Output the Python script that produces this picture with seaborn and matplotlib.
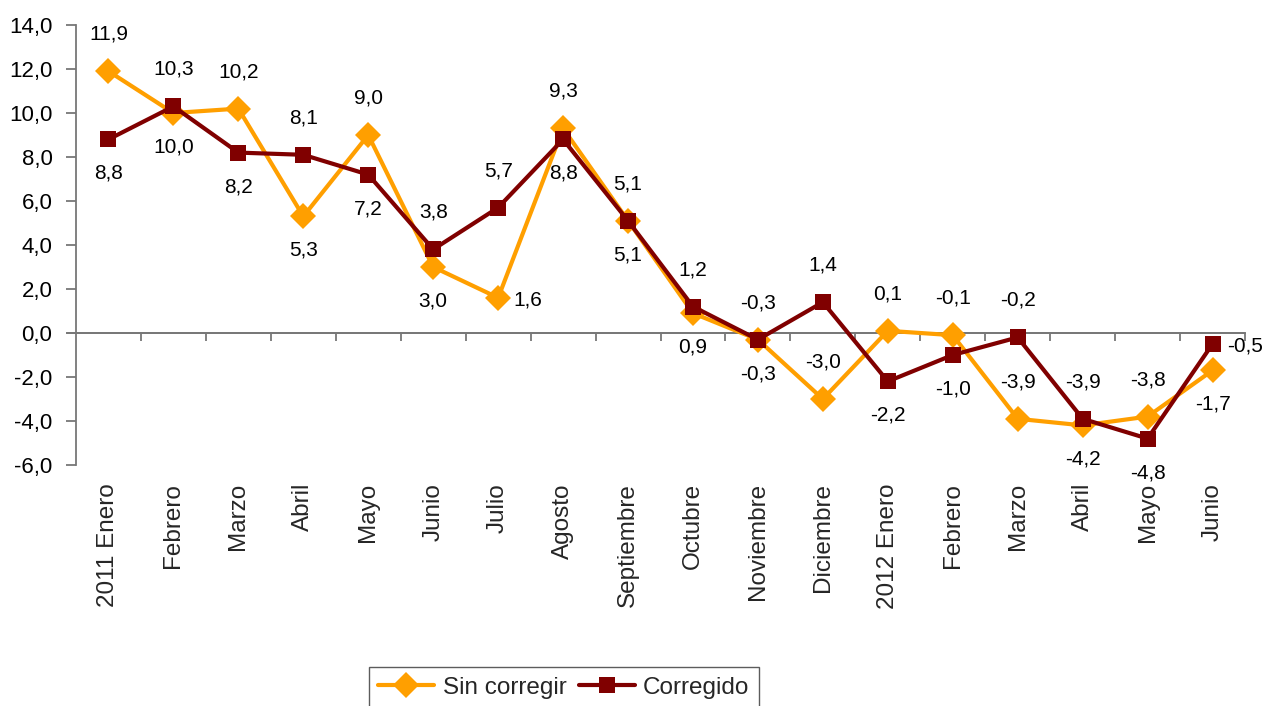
import matplotlib
matplotlib.use("Agg")
import matplotlib.pyplot as plt
import seaborn as sns
import pandas as pd
from matplotlib.ticker import FuncFormatter, FixedLocator

categories = ["2011 Enero", "Febrero", "Marzo", "Abril", "Mayo", "Junio", "Julio",
              "Agosto", "Septiembre", "Octubre", "Noviembre", "Diciembre",
              "2012 Enero", "Febrero", "Marzo", "Abril", "Mayo", "Junio"]
sin_corregir = [11.9, 10.0, 10.2, 5.3, 9.0, 3.0, 1.6, 9.3, 5.1, 0.9, -0.3, -3.0,
                0.1, -0.1, -3.9, -4.2, -3.8, -1.7]
corregido = [8.8, 10.3, 8.2, 8.1, 7.2, 3.8, 5.7, 8.8, 5.1, 1.2, -0.3, 1.4,
             -2.2, -1.0, -0.2, -3.9, -4.8, -0.5]
y_ticks = [-6, -4, -2, 0, 2, 4, 6, 8, 10, 12, 14]

# label placement: a = above, b = below, r = right
place_sin = ["a", "b", "a", "b", "a", "b", "r", "a", "b", "b", "b", "a",
             "a", "a", "a", "b", "a", "b"]
place_cor = ["b", "a", "b", "a", "b", "a", "a", "b", "a", "a", "a", "a",
             "b", "b", "a", "a", "b", "r"]

sns.set_theme(style="white")
plt.rcParams["font.family"] = ["Liberation Sans", "DejaVu Sans"]

ORANGE = "#FF9F00"
DARKRED = "#800000"
AXC = "#777777"

df = pd.DataFrame({"idx": list(range(len(categories))) * 2,
                   "valor": sin_corregir + corregido,
                   "serie": ["Sin corregir"] * len(categories) + ["Corregido"] * len(categories)})

fig = plt.figure(figsize=(12.65, 7.06), dpi=100)
ax = fig.add_axes([76 / 1265, 1 - 465 / 706, (1245 - 76) / 1265, (465 - 25) / 706])

sns.lineplot(data=df[df.serie == "Sin corregir"], x="idx", y="valor", ax=ax,
             color=ORANGE, lw=3, marker="D", markersize=13.5, markeredgewidth=0,
             label="Sin corregir")
sns.lineplot(data=df[df.serie == "Corregido"], x="idx", y="valor", ax=ax,
             color=DARKRED, lw=3, marker="s", markersize=12, markeredgewidth=0,
             label="Corregido")

ax.set_xlim(-0.5, len(categories) - 0.5)
ax.set_ylim(-6, 14)
ax.set_xlabel("")
ax.set_ylabel("")

for sp in ["top", "right", "bottom"]:
    ax.spines[sp].set_visible(False)
ax.spines["left"].set_color(AXC)
ax.spines["left"].set_linewidth(1.3)

ax.yaxis.set_major_locator(FixedLocator(y_ticks))
ax.yaxis.set_major_formatter(FuncFormatter(lambda v, p: f"{v:.1f}".replace(".", ",")))
ax.tick_params(axis="y", which="major", left=True, length=7, width=1.3, color=AXC,
               labelsize=16, pad=10, labelcolor="black")

ax.set_xticks(range(len(categories)))
ax.set_xticklabels(categories, rotation=90, fontsize=17.5, va="top")
ax.tick_params(axis="x", which="major", bottom=True, length=0, pad=13)

# zero axis line with category-boundary ticks
sec = ax.secondary_xaxis(6 / 20)
sec.spines["bottom"].set_color(AXC)
sec.spines["bottom"].set_linewidth(1.3)
sec.set_xticks([i + 0.5 for i in range(len(categories))])
sec.set_xticklabels([])
sec.tick_params(axis="x", length=6, width=1.3, color=AXC, direction="out")
ax.axhline(0, color=AXC, lw=1.3, xmin=-0.008, clip_on=False, zorder=1)

def annotate(vals, places):
    for i, (v, p) in enumerate(zip(vals, places)):
        txt = f"{v:.1f}".replace(".", ",")
        if p == "a":
            off, ha, va = (0, 37), "center", "center"
        elif p == "b":
            off, ha, va = (0, -34), "center", "center"
        else:
            off, ha, va = (15, -2), "left", "center"
        ax.annotate(txt, (i, v), xytext=off, textcoords="offset pixels",
                    ha=ha, va=va, fontsize=15, color="black", annotation_clip=False)

annotate(sin_corregir, place_sin)
annotate(corregido, place_cor)

leg = ax.legend(loc="upper center", bbox_to_anchor=(564 / 1265, 1 - 667 / 706),
                bbox_transform=fig.transFigure, ncol=2, frameon=True, fontsize=17.5,
                handlelength=2.3, handletextpad=0.35, columnspacing=0.5,
                borderpad=0.4, fancybox=False, borderaxespad=0)
leg.get_frame().set_edgecolor("#333333")
leg.get_frame().set_linewidth(1.0)

fig.savefig("out.png", dpi=100)
